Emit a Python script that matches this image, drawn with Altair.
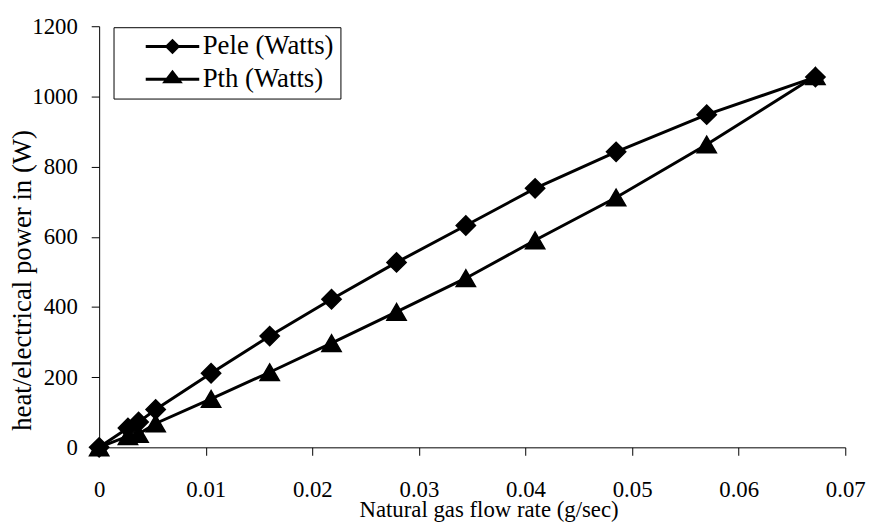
import altair as alt
import pandas as pd

# ---- data ----
flow = [0.0, 0.0027, 0.0037, 0.0053, 0.0105, 0.0160, 0.0218, 0.0279, 0.0344, 0.0409, 0.0485, 0.0570, 0.0672]
pele = [0, 55, 72, 108, 211, 317, 422, 527, 632, 738, 842, 948, 1055]
pth = [0, 32, 38, 68, 138, 214, 297, 386, 482, 590, 712, 863, 1058]
series_names = ["Pele (Watts)", "Pth (Watts)"]
x_ticks = [0, 0.01, 0.02, 0.03, 0.04, 0.05, 0.06, 0.07]
y_ticks = [0, 200, 400, 600, 800, 1000, 1200]
x_title = "Natural gas flow rate (g/sec)"
y_title = "heat/electrical power in (W)"

rows = []
for f, a, b in zip(flow, pele, pth):
    rows.append({"flow": f, "power": a, "series": series_names[0]})
    rows.append({"flow": f, "power": b, "series": series_names[1]})
df = pd.DataFrame(rows)

FONT = "Liberation Serif"

x_enc = alt.X(
    "flow:Q",
    scale=alt.Scale(domain=[0, 0.07], nice=False, zero=True),
    axis=alt.Axis(
        values=x_ticks, format=".2~f", title=x_title,
        labelFont=FONT, labelFontSize=23, labelPadding=24, labelFlush=False,
        titleFont=FONT, titleFontSize=23, titleBaseline="alphabetic", titleY=70, titleX=393,
        titleAlign="center",
    ),
)
y_enc = alt.Y(
    "power:Q",
    scale=alt.Scale(domain=[0, 1200], nice=False),
    axis=alt.Axis(
        values=y_ticks, format="d", title=y_title,
        labelFont=FONT, labelFontSize=23, labelPadding=14, labelFlush=False,
        titleFont=FONT, titleFontSize=27, titleBaseline="alphabetic", titleX=-69, titleY=256,
        titleAlign="center", titleAngle=270,
    ),
)

base = alt.Chart(df)

lines = base.mark_line(color="black", strokeWidth=3).encode(
    x=x_enc, y=y_enc, detail="series:N", order="flow:Q"
)

points = base.mark_point(filled=True, color="black", opacity=1, stroke="black", strokeWidth=1.5).encode(
    x=x_enc, y=y_enc,
    shape=alt.Shape("series:N", scale=alt.Scale(domain=series_names, range=["diamond", "triangle-up"]), legend=None),
    size=alt.value(380),
)

# legend symbols: a short line with the marker on it (unit = 10 px at size 400)
legend_paths = [
    "M-2.7,-0.15H2.7V0.15H-2.7ZM0,-0.78L0.78,0L0,0.78L-0.78,0Z",
    "M-2.7,-0.15H2.7V0.15H-2.7ZM0,-0.95L1.05,0.4L-1.05,0.4Z",
]

legend_layer = base.mark_point(filled=True, color="black", opacity=0).encode(
    x=x_enc, y=y_enc,
    shape=alt.Shape(
        "series:N",
        scale=alt.Scale(domain=series_names, range=legend_paths),
        legend=alt.Legend(
            title=None, orient="none", legendX=14.5, legendY=1,
            symbolSize=400, symbolFillColor="black", symbolStrokeColor="black",
            symbolStrokeWidth=0, symbolOpacity=1, symbolOffset=40,
            labelFont=FONT, labelFontSize=27, labelColor="black", labelOffset=17,
            labelExpr="datum.label + '  '",
            padding=6, rowPadding=5, strokeColor="black", fillColor="white",
        ),
    ),
)

chart = (
    alt.layer(lines, points, legend_layer)
    .resolve_scale(shape="independent")
    .properties(
        width=753, height=425, autosize="none",
        padding={"left": 92, "top": 16, "right": 30, "bottom": 78},
        background="white",
    )
    .configure(font=FONT)
    .configure_view(stroke=None)
    .configure_axis(
        grid=False, domainColor="black", domainWidth=1, tickColor="black", tickSize=8, tickWidth=1,
        labelFont=FONT, labelColor="black", titleFont=FONT, titleColor="black", titleFontWeight="normal",
    )
    .configure_legend(labelFont=FONT)
)

chart.save("out.html", embed_options={"renderer": "svg", "actions": False})
